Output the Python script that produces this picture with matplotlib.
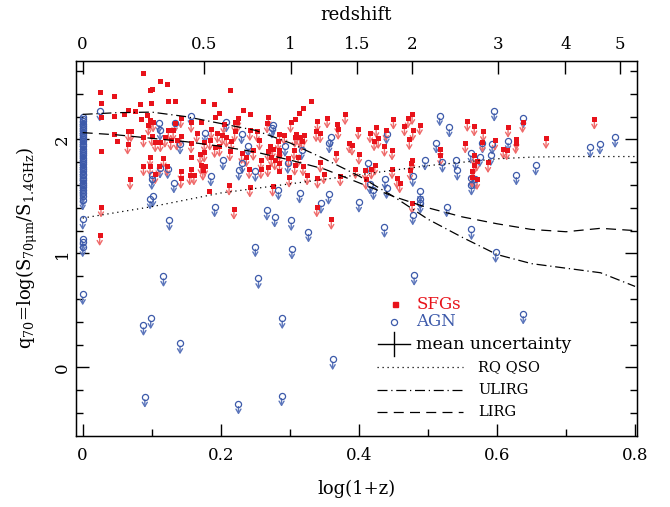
import numpy as np
import matplotlib
matplotlib.use("Agg")
import matplotlib.pyplot as plt

plt.rcParams['font.family'] = ['DejaVu Serif']
plt.rcParams['mathtext.fontset'] = 'dejavuserif'

# SFGs detected (no arrow)
sfg_det_x = [0.088, 0.112, 0.122, 0.100, 0.0975, 0.0246, 0.045, 0.124, 0.0265, 0.099,
             0.083, 0.0657, 0.0758, 0.060, 0.046, 0.0265, 0.093, 0.0845, 0.045, 0.050,
             0.0265, 0.213, 0.174, 0.190, 0.232, 0.197, 0.242, 0.133, 0.172, 0.192,
             0.157, 0.183, 0.331, 0.319, 0.313, 0.308, 0.285]
sfg_det_y = [2.585, 2.51, 2.485, 2.44, 2.43, 2.415, 2.38, 2.34, 2.32, 2.32,
             2.31, 2.26, 2.25, 2.22, 2.21, 2.20, 2.216, 2.18, 2.05, 1.99,
             1.90, 2.43, 2.34, 2.31, 2.26, 2.23, 2.22, 2.34, 2.155, 2.20,
             1.85, 1.55, 2.34, 2.28, 2.23, 2.18, 1.72]

# SFGs upper limits (square + arrow)
sfg_lim_x = [0.097, 0.102, 0.095, 0.066, 0.070, 0.088, 0.065, 0.100, 0.105, 0.0975,
             0.117, 0.088, 0.110, 0.122, 0.0686, 0.0265, 0.0246, 0.1125, 0.119, 0.124,
             0.0975, 0.105,
             0.142, 0.157, 0.204, 0.225, 0.220, 0.224, 0.133, 0.131, 0.142, 0.165,
             0.186, 0.195, 0.202, 0.208, 0.215, 0.220, 0.242, 0.252, 0.256, 0.1275,
             0.136, 0.157, 0.176, 0.184, 0.191, 0.170, 0.176, 0.198, 0.213, 0.230,
             0.237, 0.247, 0.258, 0.171, 0.177, 0.142, 0.157, 0.155, 0.161, 0.142,
             0.174, 0.241, 0.258, 0.212, 0.242, 0.219, 0.339, 0.360,
             0.301, 0.269, 0.267, 0.340, 0.354, 0.369, 0.380, 0.370, 0.285, 0.292,
             0.309, 0.314, 0.321, 0.338, 0.344, 0.283, 0.307, 0.317, 0.271, 0.275,
             0.268, 0.285, 0.306, 0.298, 0.312, 0.386, 0.390, 0.367, 0.273, 0.278,
             0.285, 0.285, 0.268, 0.307, 0.319, 0.344, 0.299, 0.325, 0.340, 0.349,
             0.373, 0.395, 0.275,
             0.399, 0.416, 0.425, 0.439, 0.450, 0.471, 0.477, 0.466, 0.478, 0.488,
             0.422, 0.428, 0.473, 0.437, 0.448, 0.400, 0.518, 0.518, 0.409, 0.418,
             0.423, 0.448, 0.477, 0.475, 0.474, 0.455, 0.459, 0.410, 0.477,
             0.557, 0.567, 0.616, 0.637, 0.580, 0.597, 0.628, 0.627, 0.554, 0.579,
             0.609, 0.614, 0.566, 0.5705, 0.587, 0.566, 0.564, 0.571, 0.564,
             0.671, 0.741]
sfg_lim_y = [2.17, 2.155, 2.125, 2.07, 2.07, 2.02, 1.96, 2.03, 1.98, 1.85,
             1.84, 1.77, 1.77, 1.77, 1.65, 1.41, 1.16, 1.98, 2.02, 2.08,
             1.77, 1.70,
             2.19, 2.15, 2.14, 2.19, 2.15, 2.15, 2.146, 2.08, 2.03, 2.06,
             2.09, 2.06, 2.04, 2.02, 1.985, 2.07, 2.08, 2.07, 1.995, 1.995,
             1.995, 1.97, 1.98, 1.995, 1.93, 1.87, 1.89, 1.94, 1.90, 1.877,
             1.85, 1.905, 1.82, 1.78, 1.77, 1.725, 1.745, 1.69, 1.69, 1.66,
             1.73, 1.745, 1.745, 1.60, 1.585, 1.39, 1.41, 1.30,
             2.15, 2.20, 2.146, 2.16, 2.19, 2.14, 2.22, 2.09, 2.05, 2.04,
             2.05, 2.02, 2.04, 2.07, 2.06, 1.99, 2.02, 1.99, 1.94, 1.92,
             1.90, 1.91, 1.91, 1.84, 1.85, 1.97, 1.95, 1.88, 1.85, 1.82,
             1.86, 1.795, 1.76, 1.775, 1.77, 1.80, 1.67, 1.69, 1.66, 1.70,
             1.68, 1.745, 1.59,
             2.09, 2.06, 2.105, 2.08, 2.18, 2.19, 2.22, 2.12, 2.08, 2.13,
             1.99, 2.01, 2.00, 1.94, 1.91, 1.87, 1.92, 1.86, 1.73, 1.74,
             1.775, 1.745, 1.82, 1.79, 1.73, 1.66, 1.62, 1.65, 1.44,
             2.16, 2.12, 2.11, 2.15, 2.07, 1.995, 2.00, 1.965, 1.97, 1.98,
             1.92, 1.91, 1.86, 1.81, 1.80, 1.775, 1.72, 1.65, 1.67,
             2.01, 2.18]

# AGN (open circles, all upper limits)
agn_x = [0.0] * 41 + [
    0.0246, 0.1106, 0.112, 0.101, 0.100, 0.102, 0.0975, 0.112, 0.123, 0.1256,
    0.117, 0.088, 0.0985, 0.141, 0.090, 0.191, 0.2256, 0.250, 0.2546, 0.2667,
    0.278, 0.289, 0.288, 0.302, 0.303, 0.327, 0.362, 0.345, 0.400,
    0.1565, 0.133, 0.208, 0.177, 0.230, 0.141, 0.2396, 0.203, 0.231, 0.226,
    0.1855, 0.250, 0.132,
    0.276, 0.274, 0.359, 0.357, 0.293, 0.317, 0.297, 0.2835, 0.314, 0.356,
    0.517, 0.531, 0.440, 0.512, 0.4957, 0.521, 0.4125, 0.4377, 0.478, 0.416,
    0.421, 0.440, 0.489, 0.489,
    0.437, 0.478, 0.489, 0.527, 0.563, 0.598, 0.480, 0.638,
    0.596, 0.638, 0.579, 0.593, 0.616, 0.562, 0.575, 0.591, 0.540, 0.5425,
    0.656, 0.628, 0.563, 0.5675, 0.563,
    0.735, 0.749, 0.771]
agn_y = [2.20, 2.18, 2.165, 2.14, 2.12, 2.10, 2.085, 2.06, 2.04, 2.02,
         2.00, 1.985, 1.96, 1.94, 1.92, 1.90, 1.885, 1.86, 1.84, 1.82,
         1.80, 1.785, 1.76, 1.74, 1.72, 1.70, 1.685, 1.66, 1.64, 1.62,
         1.60, 1.58, 1.56, 1.53, 1.50, 1.47, 1.30, 1.13, 1.10, 1.06, 0.64] + [
    2.25, 2.146, 2.08, 1.69, 1.65, 1.50, 1.48, 1.75, 1.745, 1.29,
    0.80, 0.37, 0.43, 0.21, -0.26, 1.41, -0.32, 1.06, 0.78, 1.38,
    1.32, 0.43, -0.25, 1.29, 1.04, 1.19, 0.07, 1.44, 1.45,
    2.21, 2.146, 2.155, 2.06, 2.05, 1.96, 1.94, 1.82, 1.79, 1.73,
    1.68, 1.72, 1.62,
    2.13, 2.10, 2.02, 1.97, 1.94, 1.91, 1.79, 1.56, 1.53, 1.52,
    2.21, 2.11, 2.05, 1.97, 1.82, 1.80, 1.79, 1.65, 1.675, 1.61,
    1.56, 1.57, 1.545, 1.48,
    1.23, 1.34, 1.44, 1.41, 1.21, 1.01, 0.81, 0.47,
    2.25, 2.19, 1.97, 1.96, 1.99, 1.88, 1.85, 1.86, 1.82, 1.73,
    1.775, 1.69, 1.66, 1.65, 1.60,
    1.93, 1.96, 2.02]

# model tracks vs log(1+z)
track_x = [0.0, 0.05, 0.1, 0.15, 0.2, 0.25, 0.3, 0.35, 0.4, 0.45, 0.5, 0.55,
           0.6, 0.65, 0.7, 0.75, 0.8]
rqqso_y = [1.31, 1.36, 1.41, 1.47, 1.53, 1.57, 1.61, 1.65, 1.69, 1.73, 1.77, 1.80,
           1.83, 1.845, 1.85, 1.85, 1.85]
ulirg_y = [2.22, 2.235, 2.24, 2.20, 2.14, 2.08, 1.97, 1.83, 1.68, 1.50, 1.30, 1.14,
           0.99, 0.91, 0.87, 0.83, 0.71]
lirg_y = [2.06, 2.04, 2.01, 1.98, 1.94, 1.89, 1.82, 1.74, 1.62, 1.50, 1.40, 1.32,
          1.26, 1.21, 1.19, 1.22, 1.20]

# top axis
z_ticks = [0, 0.5, 1, 1.5, 2, 3, 4, 5]

red = '#e8131b'
red_arrow = '#ef6a6a'
blue = '#3d5aaa'
blue_arrow = '#5b75bb'

fig = plt.figure(figsize=(6.7, 5.07), dpi=100)
ax = fig.add_axes([0.113, 0.140, 0.838, 0.740])


def draw_arrows(ax, xs, ys, col, length=0.095, gap=0.025):
    for xx, yy in zip(xs, ys):
        ax.annotate('', xy=(xx, yy - length), xytext=(xx, yy - gap),
                    arrowprops=dict(arrowstyle='->,head_width=0.18,head_length=0.3',
                                    color=col, lw=1.0, shrinkA=0, shrinkB=0),
                    zorder=2)


# AGN
draw_arrows(ax, agn_x, agn_y, blue_arrow)
ax.plot(agn_x, agn_y, 'o', ms=4.4, mfc='none', mec=blue, mew=0.9, zorder=3)

# SFGs
draw_arrows(ax, sfg_lim_x, sfg_lim_y, red_arrow)
ax.plot(sfg_lim_x, sfg_lim_y, 's', ms=3.6, mfc=red, mec=red, mew=0, zorder=4)
ax.plot(sfg_det_x, sfg_det_y, 's', ms=3.6, mfc=red, mec=red, mew=0, zorder=4)

# tracks
ax.plot(track_x, rqqso_y, color='k', lw=0.9, ls=(0, (1, 3)), zorder=5)
ax.plot(track_x, ulirg_y, color='k', lw=0.9, ls=(0, (8, 3, 1, 3)), zorder=5)
ax.plot(track_x, lirg_y, color='k', lw=0.9, ls=(0, (8, 5)), zorder=5)

ax.set_xlim(-0.0101, 0.803)
ax.set_ylim(-0.603, 2.69)

# legend drawn by hand in axes fraction
tr = ax.transAxes
ax.plot([0.569], [0.351], 's', ms=3.6, color=red, transform=tr)
ax.text(0.607, 0.351, 'SFGs', color=red, fontsize=12, va='center', transform=tr)
ax.plot([0.5676], [0.3046], 'o', ms=4.4, mfc='none', mec=blue, mew=0.9, transform=tr)
ax.text(0.607, 0.3046, 'AGN', color=blue, fontsize=12, va='center', transform=tr)
ax.plot([0.539, 0.596], [0.2443, 0.2443], color='k', lw=1.0, transform=tr)
ax.plot([0.5676, 0.5676], [0.212, 0.276], color='k', lw=1.0, transform=tr)
ax.text(0.606, 0.2443, 'mean uncertainty', fontsize=12.5, va='center', transform=tr)
ax.plot([0.536, 0.6905], [0.1847, 0.1847], color='k', lw=0.9, ls=(0, (1, 3)), transform=tr)
ax.text(0.717, 0.1847, 'RQ QSO', fontsize=10.5, va='center', transform=tr)
ax.plot([0.536, 0.6905], [0.1226, 0.1226], color='k', lw=0.9, ls=(0, (8, 3, 1, 3)), transform=tr)
ax.text(0.717, 0.1226, 'ULIRG', fontsize=10.5, va='center', transform=tr)
ax.plot([0.536, 0.6905], [0.0647, 0.0647], color='k', lw=0.9, ls=(0, (8, 5)), transform=tr)
ax.text(0.717, 0.0647, 'LIRG', fontsize=10.5, va='center', transform=tr)

# axes styling
ax.set_xticks([0, 0.2, 0.4, 0.6, 0.8])
ax.set_xticklabels(['0', '0.2', '0.4', '0.6', '0.8'])
ax.set_xticks(np.arange(0.1, 0.8, 0.2), minor=True)
ax.set_yticks([0, 1, 2])
ax.set_yticks([-0.4, -0.2, 0.2, 0.4, 0.6, 0.8, 1.2, 1.4, 1.6, 1.8, 2.2, 2.4, 2.6], minor=True)
ax.tick_params(which='both', direction='in', right=True, labelsize=12)
ax.tick_params(which='major', length=9, width=1.0)
ax.tick_params(which='minor', length=5, width=1.0)
ax.tick_params(axis='x', which='both', top=False, pad=8)
for lab in ax.get_yticklabels():
    lab.set_rotation(90)
    lab.set_va('center')
ax.set_xlabel('log(1+z)', fontsize=13, labelpad=11)
ax.set_ylabel(r'q$_{70}$=log(S$_{\mathrm{70\mu m}}$/S$_{\mathrm{1.4GHz}}$)', fontsize=13, labelpad=10)
for sp in ax.spines.values():
    sp.set_linewidth(1.0)

ax2 = ax.twiny()
ax2.set_xlim(ax.get_xlim())
ax2.set_xticks(np.log10(1 + np.array(z_ticks)))
ax2.set_xticklabels([str(z) for z in z_ticks])
ax2.tick_params(direction='in', length=9, width=1.0, labelsize=12, pad=6)
ax2.set_xlabel('redshift', fontsize=13, labelpad=11)

fig.savefig('out.png', dpi=100)
